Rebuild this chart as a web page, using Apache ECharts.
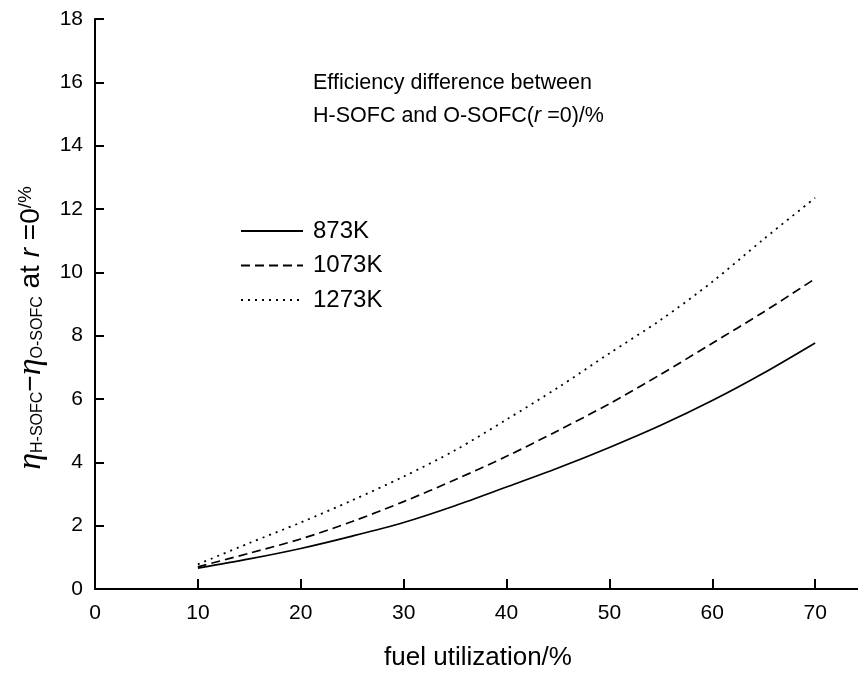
<!DOCTYPE html>
<html>
<head>
<meta charset="utf-8">
<script src="https://cdn.jsdelivr.net/npm/echarts@6/dist/echarts.min.js"></script>
<style>
  html, body { margin: 0; padding: 0; background: #fff; }
  #chart { width: 858px; height: 675px; }
</style>
</head>
<body>
<div id="chart"></div>
<script>
// fuel utilization (%)
const utilization = [10, 15, 20, 25, 30, 35, 40, 45, 50, 55, 60, 65, 70]
// efficiency difference (%)
const diff873 = [0.66, 0.95, 1.28, 1.67, 2.1, 2.63, 3.22, 3.82, 4.47, 5.17, 5.95, 6.82, 7.77]
const diff1073 = [0.7, 1.13, 1.58, 2.13, 2.76, 3.45, 4.19, 5.0, 5.85, 6.78, 7.76, 8.75, 9.8]
const diff1273 = [0.78, 1.45, 2.1, 2.8, 3.55, 4.38, 5.35, 6.36, 7.44, 8.5, 9.7, 11.05, 12.35]
const seriesNames = ['873K', '1073K', '1273K']

const font = 'Liberation Sans, Arial, sans-serif'

const chart = echarts.init(document.getElementById('chart'))

const pairs = (ys) => utilization.map((x, i) => [x, ys[i]])

const lineSeries = (name, ys, type, width) => ({
  name: name,
  type: 'line',
  data: pairs(ys),
  smooth: 0.3,
  symbol: 'none',
  lineStyle: { color: '#000', width: width, type: type },
  itemStyle: { color: '#000' }
})

const option = {
  animation: false,
  backgroundColor: '#fff',
  // x axis runs past the right edge, so the last tick falls outside the picture
  grid: { left: 95, right: -60, top: 19, bottom: 86, outerBoundsMode: 'none', containLabel: false },
  legend: {
    orient: 'vertical',
    left: 240,
    top: 219,
    padding: 0,
    itemWidth: 62,
    itemHeight: 20,
    itemGap: 10.5,
    data: seriesNames,
    itemStyle: { opacity: 0 },
    textStyle: {
      fontFamily: font,
      fontSize: 24,
      lineHeight: 24,
      color: '#000',
      padding: [0, 0, 0, 5]
    }
  },
  xAxis: {
    type: 'value',
    min: 0,
    max: 80,
    interval: 10,
    axisLine: { show: true, onZero: false, lineStyle: { color: '#000', width: 2 } },
    axisTick: { show: true, inside: true, length: 10, lineStyle: { color: '#000', width: 2 } },
    axisLabel: {
      fontFamily: font, fontSize: 21, color: '#000', margin: 14,
      formatter: (v) => (v <= 70 ? String(v) : '')
    },
    splitLine: { show: false }
  },
  yAxis: {
    type: 'value',
    min: 0,
    max: 18,
    interval: 2,
    axisLine: { show: true, lineStyle: { color: '#000', width: 2 } },
    axisTick: { show: true, inside: true, length: 9, lineStyle: { color: '#000', width: 2 } },
    axisLabel: { fontFamily: font, fontSize: 21, color: '#000', margin: 12 },
    splitLine: { show: false }
  },
  graphic: [
    {
      // y axis title, rotated
      type: 'text',
      x: 31,
      y: 328,
      rotation: Math.PI / 2,
      style: {
        text: '{eta|η}{sub|H-SOFC}{m|−}{eta|η}{sub|O-SOFC}{m| at }{ri|r }{m|=0}{sup|/%}',
        align: 'center',
        verticalAlign: 'middle',
        fill: '#000',
        rich: {
          eta: { fontFamily: 'Liberation Serif, serif', fontStyle: 'italic', fontSize: 34, lineHeight: 30, fill: '#000' },
          sub: { fontFamily: font, fontSize: 16, lineHeight: 10, verticalAlign: 'bottom', fill: '#000' },
          m: { fontFamily: font, fontSize: 28, lineHeight: 30, fill: '#000' },
          ri: { fontFamily: font, fontStyle: 'italic', fontSize: 28, lineHeight: 30, fill: '#000' },
          sup: { fontFamily: font, fontSize: 19, lineHeight: 24, verticalAlign: 'top', fill: '#000' }
        }
      }
    },
    {
      // x axis title
      type: 'text',
      x: 478,
      y: 658,
      style: {
        text: 'fuel utilization/%',
        fontFamily: font,
        fontSize: 26,
        fill: '#000',
        align: 'center',
        verticalAlign: 'middle'
      }
    },
    {
      // annotation in the plot
      type: 'text',
      left: 313,
      top: 72,
      style: {
        text: '{t|Efficiency difference between}\n{t|H-SOFC and O-SOFC(}{ti|r }{t|=0)/%}',
        fill: '#000',
        rich: {
          t: { fontFamily: font, fontSize: 21.5, lineHeight: 33, fill: '#000' },
          ti: { fontFamily: font, fontStyle: 'italic', fontSize: 21.5, lineHeight: 33, fill: '#000' }
        }
      }
    }
  ],
  series: [
    lineSeries(seriesNames[0], diff873, 'solid', 1.7),
    lineSeries(seriesNames[1], diff1073, [9, 5], 1.7),
    lineSeries(seriesNames[2], diff1273, [2, 5], 1.8)
  ]
}

chart.setOption(option)
</script>
</body>
</html>
